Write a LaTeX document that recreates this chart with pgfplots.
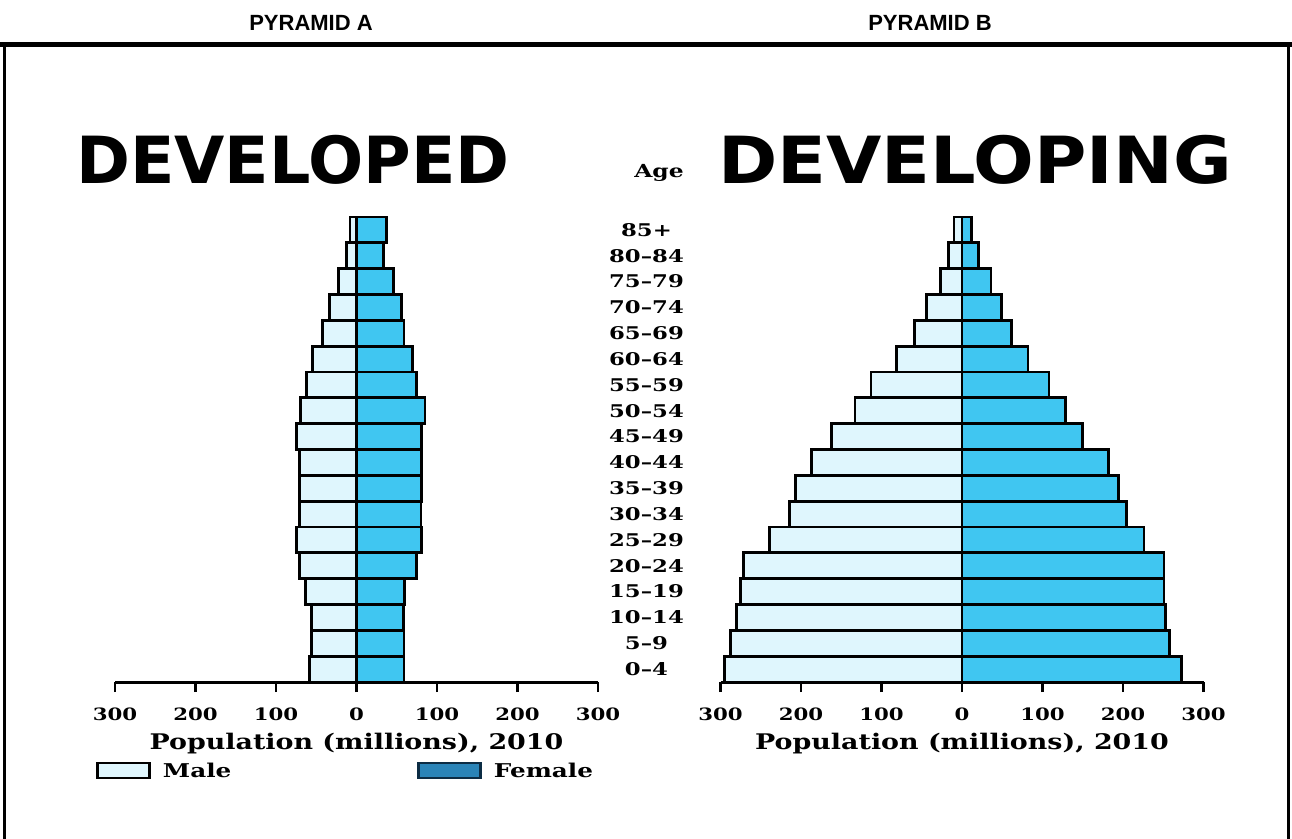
\documentclass[border=0pt]{standalone}
\usepackage{pgfplots}
\pgfplotsset{compat=1.18}
\usepackage{pgfplotstable}
\usepackage{fontspec}
\setmainfont{DejaVu Serif}
\newfontfamily\lblfont[FakeStretch=1.25]{DejaVu Serif}
\newfontfamily\lbbfont[FakeStretch=1.3]{DejaVu Serif}
\newfontfamily\ttlfont{DejaVu Sans}
\newfontfamily\hdrfont{Liberation Sans}
\definecolor{malec}{HTML}{DFF6FD}
\definecolor{femc}{HTML}{40C6F1}
\definecolor{femleg}{HTML}{2A84B8}
\definecolor{femlegdraw}{HTML}{0C2C44}

% developed: idx 0 = 0-4 ... 17 = 85+
\pgfplotstableread{
idx male female
0  -58 59
1  -56 59
2  -56 58
3  -63 60
4  -71 75
5  -75 81
6  -71 80
7  -71 81
8  -71 81
9  -75 81
10 -70 85
11 -62 75
12 -55 70
13 -42 59
14 -34 56
15 -22 46
16 -12 34
17 -8  37
}\devA

% developing
\pgfplotstableread{
idx male female
0  -295 273
1  -288 258
2  -280 253
3  -275 251
4  -271 251
5  -239 226
6  -214 204
7  -207 194
8  -187 182
9  -162 150
10 -133 129
11 -113 108
12 -81  82
13 -59  61
14 -44  49
15 -27  36
16 -17  20
17 -10  12
}\devB

\pgfplotsset{
  pyr/.style={
    scale only axis, width=483pt, height=465pt,
    xmin=-300, xmax=300, ymin=-0.5, ymax=17.5,
    axis x line=bottom,
    x axis line style={line width=3pt, -},
    xtick={-300,-200,...,300},
    xticklabels={300,200,100,0,100,200,300},
    tick align=outside, major tick length=10pt,
    xtick style={line width=2.5pt, black},
    xticklabel style={font=\lblfont\bfseries\fontsize{17}{17}\selectfont, anchor=base, yshift=-28pt},
    xlabel={Population (millions), 2010},
    xlabel style={font=\lblfont\bfseries\fontsize{21.5}{21.5}\selectfont, at={(axis description cs:0.5,0)}, anchor=base, yshift=-67pt},
    clip=false,
  },
  bars/.style={xbar, bar width=1, bar shift=0pt, draw=black, line width=2.8pt},
}

\begin{document}
\begin{tikzpicture}
\useasboundingbox (0pt,0pt) rectangle (1292pt,-838pt);
% frame
\draw[line width=5pt] (0pt,-44.5pt) -- (1292pt,-44.5pt);
\draw[line width=3.5pt] (4.5pt,-44.5pt) -- (4.5pt,-840pt);
\draw[line width=3.5pt] (1288.5pt,-44.5pt) -- (1288.5pt,-840pt);
% headers
\node[font=\hdrfont\bfseries\fontsize{22}{22}\selectfont, anchor=base] at (311pt,-30pt) {PYRAMID A};
\node[font=\hdrfont\bfseries\fontsize{22}{22}\selectfont, anchor=base] at (930pt,-30pt) {PYRAMID B};
% titles
\node[font=\ttlfont\bfseries\fontsize{65}{65}\selectfont, anchor=base west, inner sep=0pt] at (76pt,-183pt) {DEVELOPED};
\node[font=\ttlfont\bfseries\fontsize{65}{65}\selectfont, anchor=base west, inner sep=0pt, xscale=1.1] at (718pt,-183pt) {DEVELOPING};
\node[font=\lbbfont\bfseries\fontsize{18}{18}\selectfont, anchor=base] at (659pt,-177pt) {Age};

% Pyramid A
\begin{axis}[pyr, at={(115pt,-682pt)}, anchor=south west,
  axis y line=none,
  legend style={draw=none, fill=none, at={(axis description cs:-0.045,-0.191)}, anchor=west,
    font=\lbbfont\bfseries\fontsize{19}{19}\selectfont,
    /tikz/every odd column/.append style={column sep=10pt},
    /tikz/every even column/.append style={column sep=184pt}},
  legend columns=2,
]
\addplot[bars, fill=malec, forget plot] table[x=male, y=idx] {\devA};
\addplot[bars, fill=femc, forget plot] table[x=female, y=idx] {\devA};
\addlegendimage{legend image code/.code={\draw[line width=2.5pt, draw=black, fill=malec] (0pt,-7pt) rectangle (52pt,8pt);}}
\addlegendentry{Male}
\addlegendimage{legend image code/.code={\draw[line width=2.5pt, draw=femlegdraw, fill=femleg] (0pt,-7pt) rectangle (62pt,8pt);}}
\addlegendentry{Female}
\end{axis}

% Pyramid B
\begin{axis}[pyr, at={(720.5pt,-682pt)}, anchor=south west,
  axis y line=left,
  y axis line style={draw=none},
  ytick={0,...,17},
  yticklabels={0–4,5–9,10–14,15–19,20–24,25–29,30–34,35–39,40–44,45–49,50–54,55–59,60–64,65–69,70–74,75–79,80–84,85+},
  ytick style={draw=none},
  yticklabel style={font=\lbbfont\bfseries\fontsize{17.5}{17.5}\selectfont, anchor=center, xshift=-69pt},
]
\addplot[bars, fill=malec] table[x=male, y=idx] {\devB};
\addplot[bars, fill=femc] table[x=female, y=idx] {\devB};
\end{axis}
\end{tikzpicture}
\end{document}
